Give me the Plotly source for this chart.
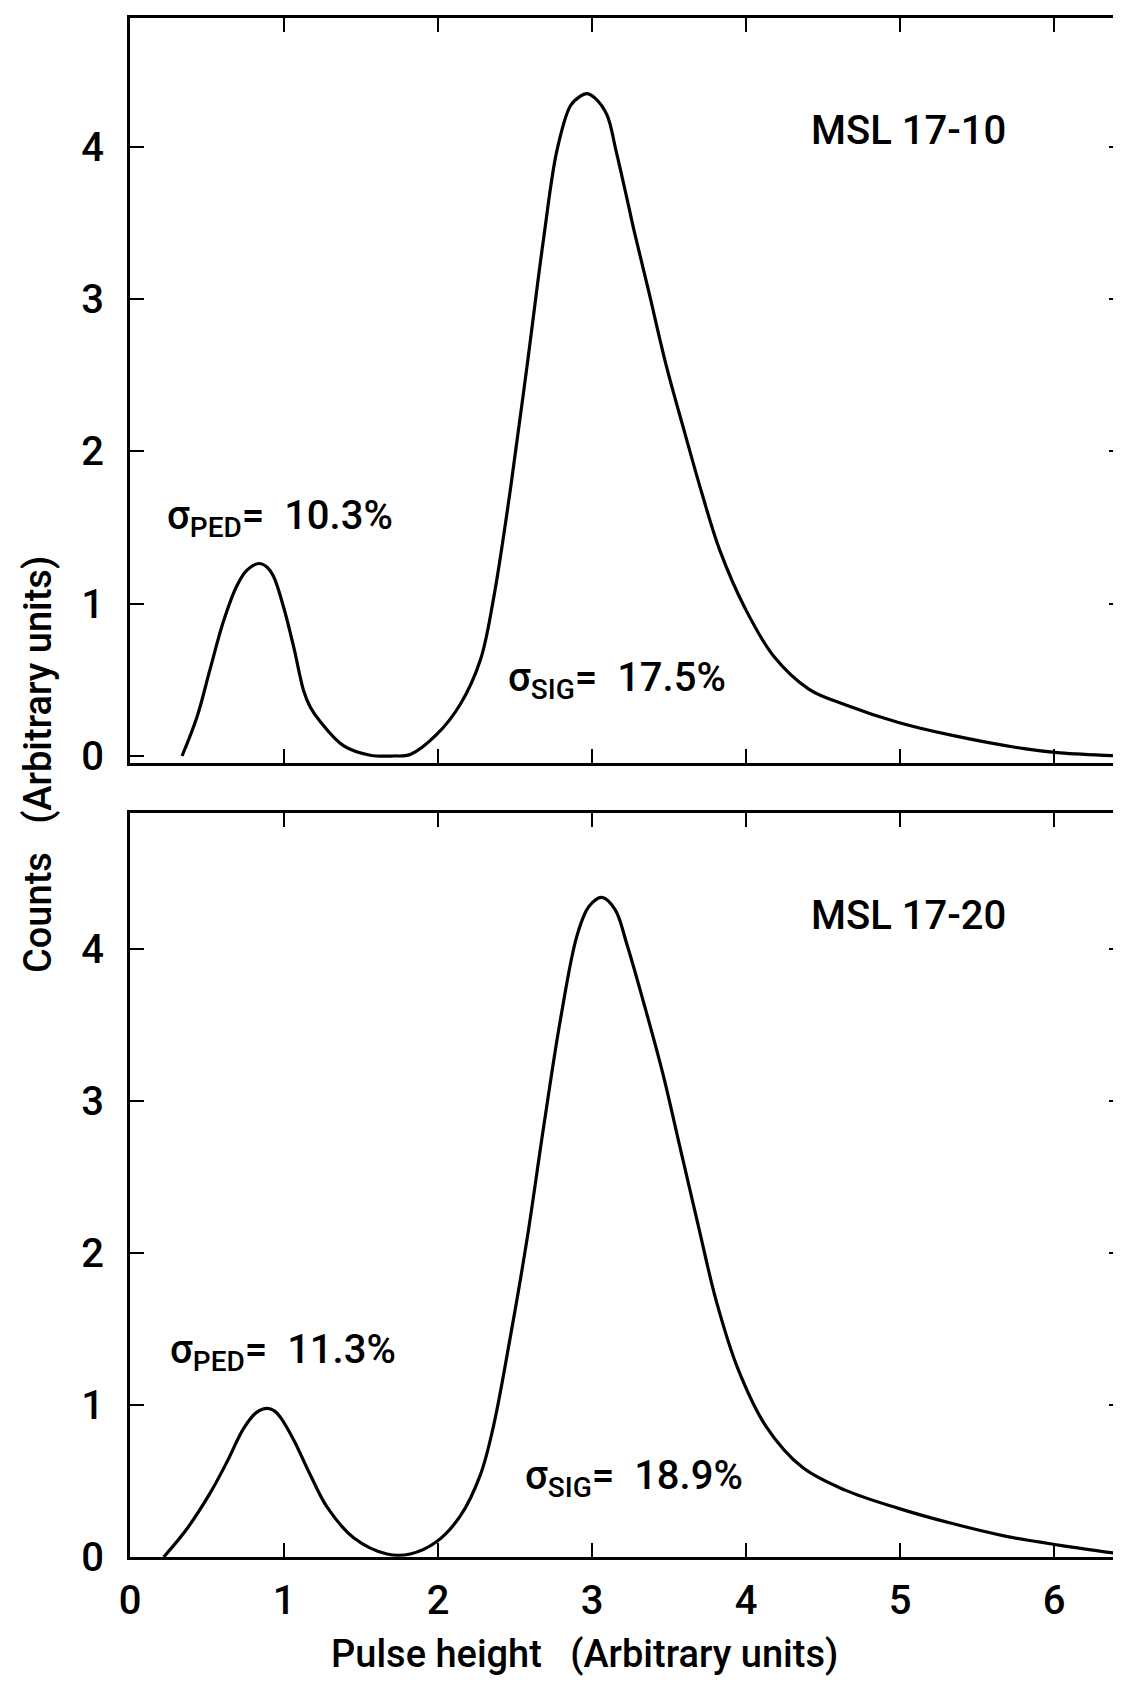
import plotly.graph_objects as go

# ---------------- data ----------------
top_x = [0.338, 0.435, 0.52, 0.608, 0.695, 0.76, 0.836, 0.89, 0.933, 0.998,
         1.063, 1.128, 1.171, 1.236, 1.388, 1.56, 1.712, 1.82, 1.99, 2.145,
         2.275, 2.36, 2.47, 2.578, 2.686, 2.773, 2.86, 2.92, 2.965, 3.02,
         3.097, 3.157, 3.227, 3.273, 3.366, 3.483, 3.6, 3.715, 3.83, 3.994,
         4.18, 4.41, 4.644, 4.99, 5.34, 5.805, 6.04, 6.43]
top_y = [0.0, 0.256, 0.57, 0.888, 1.12, 1.22, 1.264, 1.24, 1.177, 0.975,
         0.716, 0.427, 0.32, 0.225, 0.066, 0.005, 0.0, 0.01, 0.14, 0.34,
         0.63, 1.03, 1.75, 2.56, 3.40, 3.98, 4.27, 4.33, 4.35, 4.32,
         4.21, 3.97, 3.66, 3.45, 3.06, 2.56, 2.13, 1.72, 1.35, 0.97,
         0.655, 0.438, 0.337, 0.22, 0.135, 0.048, 0.02, 0.0]

bot_x = [0.219, 0.37, 0.52, 0.63, 0.738, 0.82, 0.89, 0.94, 0.976, 1.063,
         1.171, 1.279, 1.452, 1.669, 1.82, 1.99, 2.145, 2.275, 2.36, 2.47,
         2.578, 2.686, 2.794, 2.903, 2.98, 3.064, 3.15, 3.227, 3.343, 3.46,
         3.575, 3.69, 3.808, 3.947, 4.133, 4.366, 4.644, 4.99, 5.34, 5.69,
         6.04, 6.43]
bot_y = [0.0, 0.186, 0.42, 0.626, 0.846, 0.95, 0.978, 0.96, 0.92, 0.77,
         0.54, 0.33, 0.127, 0.02, 0.02, 0.1, 0.27, 0.54, 0.86, 1.45,
         2.09, 2.83, 3.53, 4.09, 4.28, 4.34, 4.26, 4.03, 3.62, 3.18,
         2.68, 2.18, 1.68, 1.24, 0.855, 0.59, 0.44, 0.32, 0.22, 0.136,
         0.077, 0.02]

x_ticks = [0, 1, 2, 3, 4, 5, 6]
y_ticks = [0, 1, 2, 3, 4]
y_ticks_right = [1, 2, 3, 4]

top_label = "MSL 17-10"
bot_label = "MSL 17-20"
top_ped = "σ<sub>PED</sub>=  10.3%"
top_sig = "σ<sub>SIG</sub>=  17.5%"
bot_ped = "σ<sub>PED</sub>=  11.3%"
bot_sig = "σ<sub>SIG</sub>=  18.9%"
x_title = "Pulse height   (Arbitrary units)"
y_title = "Counts   (Arbitrary units)"

# ---------------- figure ----------------
# the page body has an 8 px default margin: figure pixel = page pixel - 8
OFF = 8
W, H = 1121 - OFF, 1686 - 2 * OFF
FONT = "Roboto, 'DejaVu Sans', sans-serif"
x_dom = [(130 - OFF) / W, 1.0]
top_dom = [1 - (763 - OFF) / H, 1 - (18 - OFF) / H]
bot_dom = [1 - (1557 - OFF) / H, 1 - (813 - OFF) / H]
x_range = [0, 6.435]
top_range = [-0.046, 4.846]
bot_range = [0, 4.895]

fig = go.Figure()
line = dict(color="black", width=3.2, shape="spline", smoothing=1.0)
fig.add_trace(go.Scatter(x=bot_x, y=bot_y, mode="lines", line=line,
                         xaxis="x", yaxis="y", showlegend=False, hoverinfo="skip"))
fig.add_trace(go.Scatter(x=top_x, y=top_y, mode="lines", line=line,
                         xaxis="x2", yaxis="y2", showlegend=False, hoverinfo="skip"))
# placeholder traces (no visible marks) so the right-hand tick axes are drawn
fig.add_trace(go.Scatter(x=[0], y=[None], mode="lines", xaxis="x", yaxis="y3",
                         showlegend=False, hoverinfo="skip"))
fig.add_trace(go.Scatter(x=[0], y=[None], mode="lines", xaxis="x2", yaxis="y4",
                         showlegend=False, hoverinfo="skip"))

tickfont = dict(family=FONT, size=40, color="black", weight=500)
common_x = dict(domain=x_dom, range=x_range, showline=True, linewidth=3,
                linecolor="black", mirror="ticks", ticks="inside", ticklen=14,
                tickwidth=2, tickcolor="black", tickvals=x_ticks,
                showgrid=False, zeroline=False, tickfont=tickfont,
                ticklabelstandoff=6, automargin=False)
common_y = dict(showline=True, linewidth=3, linecolor="black", mirror=False,
                ticks="inside", ticklen=14, tickwidth=2, tickcolor="black",
                tickvals=y_ticks, showgrid=False, zeroline=False,
                tickfont=tickfont, ticklabelstandoff=15, automargin=False)
right_y = dict(side="right", showline=False, ticks="inside", ticklen=12,
               tickwidth=2, tickcolor="black", tickvals=y_ticks_right,
               showticklabels=False, showgrid=False, zeroline=False,
               automargin=False)

fig.update_layout(
    width=W, height=H,
    margin=dict(l=0, r=0, t=0, b=0, autoexpand=False),
    paper_bgcolor="white", plot_bgcolor="white",
    font=dict(family=FONT, size=38, color="black"),
    xaxis=dict(anchor="y", showticklabels=True, **common_x),
    xaxis2=dict(anchor="y2", showticklabels=False, **common_x),
    yaxis=dict(anchor="x", domain=bot_dom, range=bot_range, **common_y),
    yaxis2=dict(anchor="x2", domain=top_dom, range=top_range, **common_y),
    yaxis3=dict(anchor="x", overlaying="y", range=bot_range, **right_y),
    yaxis4=dict(anchor="x2", overlaying="y2", range=top_range, **right_y),
)

def ann(text, x, y, xref, yref, size=40, **kw):
    fig.add_annotation(text=text, x=x, y=y, xref=xref, yref=yref,
                       showarrow=False, xanchor="left", yanchor="middle",
                       font=dict(family=FONT, size=size, color="black", weight=500),
                       **kw)

ann(top_label, 4.41, 4.11, "x2", "y2")
ann(top_ped, 0.227, 1.56, "x2", "y2")
ann(top_sig, 2.44, 0.50, "x2", "y2")
ann(bot_label, 4.41, 4.22, "x", "y")
ann(bot_ped, 0.247, 1.35, "x", "y")
ann(bot_sig, 2.55, 0.52, "x", "y")

fig.add_annotation(text=x_title, x=(584 - OFF) / W, y=0.0,
                   xref="paper", yref="paper", showarrow=False,
                   xanchor="center", yanchor="bottom",
                   font=dict(family=FONT, size=38, color="black", weight=500))
fig.add_annotation(text=y_title, x=(38 - OFF) / W, y=1 - (765 - OFF) / H,
                   xref="paper", yref="paper", showarrow=False,
                   xanchor="center", yanchor="middle", textangle=-90,
                   font=dict(family=FONT, size=38, color="black", weight=500))

fig.write_html("out.html")
